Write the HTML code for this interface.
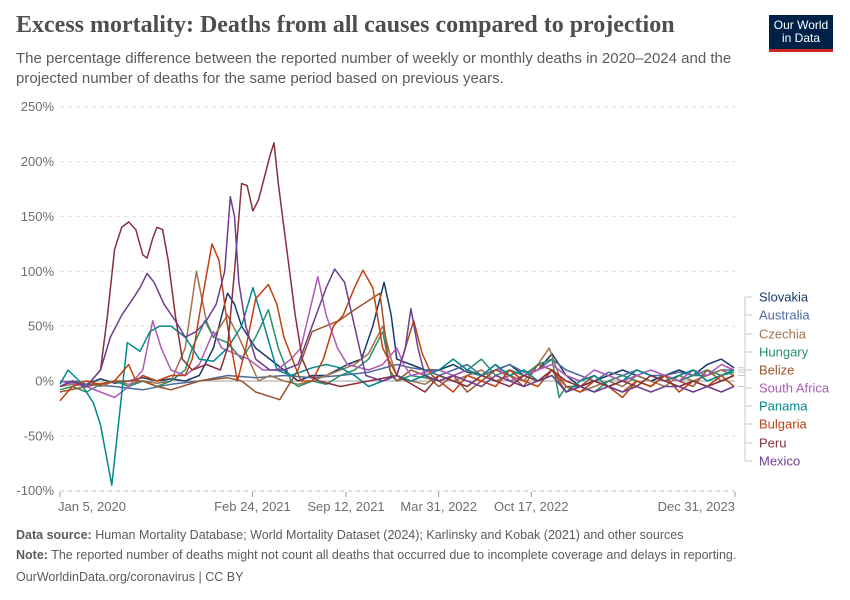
<!DOCTYPE html>
<html><head><meta charset="utf-8"><style>
body{margin:0;background:#fff;font-family:"Liberation Sans",sans-serif;}
#wrap{position:relative;width:850px;height:600px;overflow:hidden;}
.t{position:absolute;white-space:nowrap;}
</style></head><body>
<div id="wrap">
<div class="t" style="left:16px;top:12px;font-family:'Liberation Serif',serif;font-size:24px;font-weight:bold;color:#4e4e4e;">Excess mortality: Deaths from all causes compared to projection</div>
<div class="t" style="left:16px;top:49px;font-size:15px;line-height:20px;color:#5b5b5b;white-space:normal;width:740px;">The percentage difference between the reported number of weekly or monthly deaths in 2020–2024 and the projected number of deaths for the same period based on previous years.</div>
<div style="position:absolute;left:769px;top:15px;width:64px;height:37px;background:#002147;border-bottom:3px solid #ce261e;box-sizing:border-box;color:#fff;font-size:12px;line-height:13px;text-align:center;padding-top:4px;">Our World<br>in Data</div>
<svg id="chart" width="850" height="600" style="position:absolute;left:0;top:0"></svg>
<div class="t" style="left:16px;top:528px;font-size:12.5px;color:#5b5b5b;"><b>Data source:</b> Human Mortality Database; World Mortality Dataset (2024); Karlinsky and Kobak (2021) and other sources</div>
<div class="t" style="left:16px;top:548px;font-size:12.5px;color:#5b5b5b;"><b>Note:</b> The reported number of deaths might not count all deaths that occurred due to incomplete coverage and delays in reporting.</div>
<div class="t" style="left:16px;top:570px;font-size:12.5px;color:#5b5b5b;">OurWorldinData.org/coronavirus | CC BY</div>
</div>
<script>
const yTicks=[250,200,150,100,50,0,-50,-100];
const xTickMonths=[0.13,13.77,20.4,26.97,33.53,47.97];
const xTickLabels=["Jan 5, 2020","Feb 24, 2021","Sep 12, 2021","Mar 31, 2022","Oct 17, 2022","Dec 31, 2023"];
const seriesNames=["Slovakia","Australia","Czechia","Hungary","Belize","South Africa","Panama","Bulgaria","Peru","Mexico"];
const seriesColors=["#1a3a6b","#4c6a9c","#a2734a","#2a8f6a","#a0522d","#b159b8","#00898e","#c2410f","#883039","#6d3e91"];
const late=[27,28,29,30,31,32,33,34,35,36,37,38,39,40,41,42,43,44,45,46,47,47.9];
const slovakiaM=[0.13,1,2,3,4,5,6,7,8,9,10,11,12,12.5,13,14,15,16,17,18,19,20.5,21.5,22.3,23.1,23.6,24,25,26].concat(late);
const slovakiaV=[-5,0,-3,2,-2,0,3,0,2,0,5,30,80,70,50,30,20,10,0,5,5,15,20,50,90,60,20,15,10, 10,15,8,5,10,15,5,10,25,5,-5,0,5,10,5,0,5,10,5,15,20,12];
const australiaM=[0.13,2,4,6,8,10,12,14,16,18,20,22,24,25,26].concat(late);
const australiaV=[0,-3,-5,-8,-3,0,5,3,5,3,5,8,15,12,10, 5,10,15,5,10,15,8,10,20,10,5,0,8,5,10,5,5,8,5,5,10,10];
const czechiaM=[0.13,1,2,3,4,5,6,7,8,9,9.8,10.5,11,12,12.8,13.5,14.2,15,16,17,18,19,20,21,22,23,23.6,24,25,26].concat([27,28,29,30,31,32,33,34,34.8,35.5,36,37,38,39,40,41,42,43,44,45,46,47,47.9]);
const czechiaV=[-5,-3,0,-5,0,-3,0,-2,0,30,100,55,40,60,40,20,0,5,0,-3,0,5,10,15,25,50,20,5,0,-3, 5,0,5,10,0,5,0,15,30,5,-5,-10,-5,0,-5,5,0,-5,5,0,5,10,5];
const hungaryM=[0.13,1,2,3,4,5,6,7,8,9,9.5,10.4,11,12,13,14,14.9,15.6,16.5,17,18,19,20,21,22,23,23.6,24,25,26].concat([27,28,29,30,31,32,33,34,35,35.5,36,37,38,39,40,41,42,43,44,45,46,47,47.9]);
const hungaryV=[-8,-5,-10,-3,0,-5,0,-5,0,10,30,55,40,35,20,40,65,30,0,-5,0,-3,5,10,20,45,5,0,5,3, 0,5,10,20,5,10,5,15,20,-15,-5,-5,-10,0,5,0,-5,5,0,5,10,5,8];
const belizeM=[0.13,2,4,6,7,8,10,12,13,14,15.7,17,18,19.9,21,22.8,23.5,24,25,26,27,28,29,30,31,32,33,34,35,36,37,38,39,40,41,42,43,44,45,46,47,47.9];
const belizeV=[-10,-5,0,0,-5,-8,0,3,0,-10,-17,10,45,55,65,80,10,0,10,5,-5,5,-10,0,10,5,-5,15,10,-10,-5,5,-5,-10,0,-5,5,0,-5,10,0,5];
const southAfricaM=[0.13,1,2,3,4,5,6,6.7,7.3,8,9,10,11,11.6,12.5,13.5,14.5,15.5,16.5,17.2,18.4,19,19.8,20.5,22,23,24,24.5,25,26].concat(late);
const southAfricaV=[0,-3,-5,-10,-15,-5,10,55,30,10,5,15,45,30,25,20,10,10,20,30,95,60,30,15,10,15,30,15,5,8, 10,5,10,5,15,0,5,10,15,5,0,10,5,0,5,10,5,0,10,5,15,10];
const panamaM=[0.13,0.7,1.5,2.5,3,3.8,4.9,5.8,6.5,7.2,8,9,10,11,12,13,13.8,14.5,15.5,16.5,18,19,20,21,22,23,24,25,26].concat(late);
const panamaV=[-3,10,0,-20,-40,-95,35,27,45,50,50,40,20,18,30,50,85,55,10,5,12,15,12,5,-5,0,5,0,5, 10,20,10,5,15,5,10,0,5,-10,0,5,-5,0,10,5,0,5,10,0,5,10];
const bulgariaM=[0.13,1,2,3,4,5,5.5,6,7,8,9,9.5,10,10.9,11.4,12,12.7,13.3,14,14.9,15.5,16,17.2,18,18.8,19.5,20.2,21,21.6,22.3,23,24,24.6,25.2,25.8,26.5].concat(late);
const bulgariaV=[-18,-5,0,-3,0,15,0,5,0,5,5,20,60,125,110,50,0,30,75,88,70,40,0,0,20,50,60,85,101,85,30,5,30,55,25,5, 0,-10,5,0,-5,10,0,-5,10,-5,-10,0,-5,-15,0,-5,5,-10,0,-5,5,-5];
const peruM=[0.13,1,2,3,3.5,4,4.5,5,5.5,6,6.3,6.7,7,7.4,7.8,8.3,8.8,9.5,10.5,11.5,12,12.5,13,13.4,13.8,14.2,14.6,15,15.3,15.6,16,16.4,16.8,17.3,17.8,18.5,20,22,24,26].concat(late);
const peruV=[-5,0,-5,10,60,120,140,145,138,115,112,130,140,138,110,60,20,10,15,10,30,100,180,178,155,165,185,205,217,180,140,100,60,20,5,0,-5,0,5,-10, 5,0,-5,5,0,-5,5,0,10,0,-5,0,-5,0,-5,5,0,-5,0,-5,0,5];
const mexicoM=[0.13,1,2,3,3.7,4.5,5.3,5.8,6.3,6.8,7.5,8.3,9,9.8,10.5,11.2,11.8,12.2,12.5,12.8,13.3,14,15,16,17,18,19,19.6,20.3,21,21.8,23,24,24.6,25,25.5,26].concat(late);
const mexicoV=[-5,0,-5,10,40,60,75,85,98,90,70,55,40,45,55,70,100,168,150,90,50,20,10,10,15,50,85,102,90,50,5,0,5,30,66,30,5, 0,5,0,-5,5,0,-5,0,5,-10,-5,-10,-5,-10,-5,-10,-5,-5,-10,-5,-10,-5];
const seriesMonths=[slovakiaM,australiaM,czechiaM,hungaryM,belizeM,southAfricaM,panamaM,bulgariaM,peruM,mexicoM];
const seriesValues=[slovakiaV,australiaV,czechiaV,hungaryV,belizeV,southAfricaV,panamaV,bulgariaV,peruV,mexicoV];

const X0=60,X1=735,M0=0.13,M1=47.97,Y0=381,PY=384/350;
function xs(m){return X0+(m-M0)*(X1-X0)/(M1-M0);}
function ys(v){return Y0-v*PY;}
const svg=document.getElementById('chart');
const NS='http://www.w3.org/2000/svg';
function el(tag,attrs,parent){const e=document.createElementNS(NS,tag);for(const k in attrs)e.setAttribute(k,attrs[k]);(parent||svg).appendChild(e);return e;}

yTicks.forEach(v=>{
  const g=el('line',{x1:X0,x2:X1,y1:ys(v),y2:ys(v),stroke:v===0?'#a0a0a0':'#dddddd','stroke-width':1,'stroke-dasharray':v===0?'':'4,4'});
  
  
  const t=el('text',{x:54,y:ys(v)+4.5,'text-anchor':'end','font-size':13,fill:'#6e6e6e'});
  t.textContent=v+'%';
  
  
});
const xa=el('line',{x1:X0,x2:X1,y1:491.5,y2:491.5,stroke:'#dddddd','stroke-dasharray':'4,4'});
xTickMonths.forEach((m,i)=>{
  const tk=el('line',{x1:xs(m),x2:xs(m),y1:492,y2:497,stroke:'#999'});
  
  
  const anchor=i===0?'start':(i===xTickMonths.length-1?'end':'middle');
  const t=el('text',{x:xs(m)+(i===0?-2:0),y:511,'text-anchor':anchor,'font-size':13,fill:'#6e6e6e'});
  t.textContent=xTickLabels[i];
  
  
});
const labelY=[297,315,334,352,370,388,406,424,443,461];
seriesNames.forEach((n,i)=>{
  const M=seriesMonths[i],V=seriesValues[i];
  let d='';
  for(let k=0;k<M.length&&k<V.length;k++){d+=(k?'L':'M')+xs(M[k]).toFixed(1)+','+ys(V[k]).toFixed(1);}
  const p=el('path',{d:d,fill:'none',stroke:seriesColors[i],'stroke-width':1.5,'stroke-linejoin':'round'});
  
  
  const endY=ys(V[Math.min(M.length,V.length)-1]);
  const c=el('path',{d:'M738,'+endY.toFixed(1)+'H745V'+labelY[i]+'H752',fill:'none',stroke:'#c8c8c8','stroke-width':1});
  
  
  const t=el('text',{x:759,y:labelY[i]+4.5,'font-size':13,fill:seriesColors[i]});
  t.textContent=n;
  
  
});
</script>
</body></html>
